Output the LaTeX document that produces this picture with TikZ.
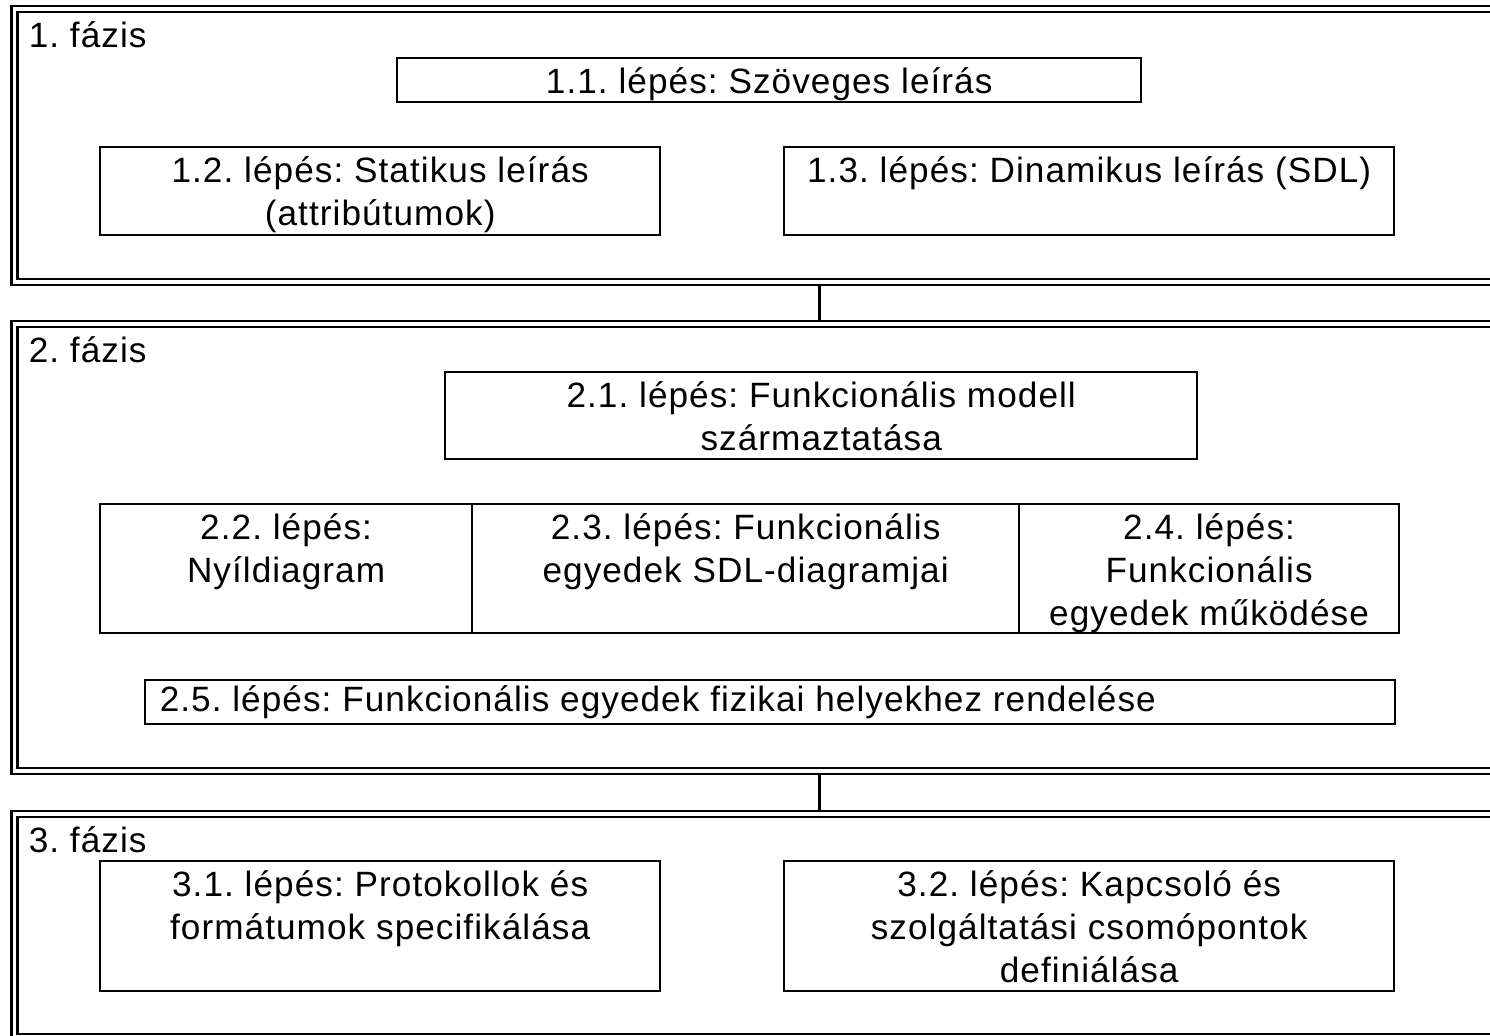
\documentclass[tikz,border=0pt]{standalone}
\usepackage{fontspec}
\setmainfont{Liberation Sans}[LetterSpace=3]
\usetikzlibrary{positioning}
\frenchspacing

\begin{document}
\begin{tikzpicture}[x=0.01cm,y=-0.01cm]
        \tikzstyle{phasebox}=[draw,double=white,double distance=1.1pt,line width=0.6pt,
            outer sep=1.15pt,inner sep=0pt,minimum width=16.09cm,anchor=north west]
        \tikzstyle{stepbox}=[draw,line width=0.6pt,inner sep=0pt,outer sep=0pt,anchor=north west]
        \tikzstyle{steptext}=[align=center,inner sep=1pt,font=\fontsize{10}{12.2}\selectfont]
        \tikzstyle{phasetext}=[inner sep=0pt,font=\fontsize{10}{12.2}\selectfont]

        \useasboundingbox (0,0) rectangle (1490,1036);
        \clip (0,0) rectangle (1490,1036);

        %% 1. fazis
        \begin{scope}
            \node [phasebox,minimum height=2.725cm] (f1) at (10.5,5) {};
            \node [phasetext,below right=4.5pt and 5pt of f1.north west] (f1t) {1. fázis};

            \node [stepbox,minimum width=7.44cm,minimum height=0.44cm] (s11) at (397,58) {};
            \node [steptext,below=1.5pt of s11.north] {1.1. lépés: Szöveges leírás};
            \node [stepbox,minimum width=5.6cm,minimum height=0.88cm] (s12) at (100,147) {};
            \node [steptext,below=1.5pt of s12.north] {1.2. lépés: Statikus leírás\\(attribútumok)};
            \node [stepbox,minimum width=6.1cm,minimum height=0.88cm] (s13) at (784,147) {};
            \node [steptext,below=1.5pt of s13.north] {1.3. lépés: Dinamikus leírás (SDL)};
        \end{scope}

        %% 2. fazis
        \begin{scope}
            \node [phasebox,minimum height=4.47cm] (f2) at (10.5,320) {};
            \node [phasetext,below right=4.5pt and 5pt of f2.north west] (f2t) {2. fázis};

            \node [stepbox,minimum width=7.52cm,minimum height=0.87cm] (s21) at (445,372) {};
            \node [steptext,below=1.5pt of s21.north] {2.1. lépés: Funkcionális modell\\származtatása};
            \node [stepbox,minimum width=3.72cm,minimum height=1.29cm] (s22) at (100,504) {};
            \node [steptext,below=1.5pt of s22.north] {2.2. lépés:\\Nyíldiagram};
            \node [stepbox,minimum width=5.47cm,minimum height=1.29cm] (s23) at (472,504) {};
            \node [steptext,below=1.5pt of s23.north] {2.3. lépés: Funkcionális\\egyedek SDL-diagramjai};
            \node [stepbox,minimum width=3.8cm,minimum height=1.29cm] (s24) at (1019,504) {};
            \node [steptext,below=1.5pt of s24.north] {2.4. lépés:\\Funkcionális\\egyedek működése};
            \node [stepbox,minimum width=12.49cm,minimum height=0.44cm] (s25) at (145,680) {};
            \node [steptext,right=3pt of s25.west] {2.5. lépés: Funkcionális egyedek fizikai helyekhez rendelése};
        \end{scope}

        %% 3. fazis
        \begin{scope}
            \node [phasebox,minimum height=2.225cm] (f3) at (10.5,810) {};
            \node [phasetext,below right=4.5pt and 5pt of f3.north west] (f3t) {3. fázis};

            \node [stepbox,minimum width=5.6cm,minimum height=1.3cm] (s31) at (100,861) {};
            \node [steptext,below=1.5pt of s31.north] {3.1. lépés: Protokollok és\\formátumok specifikálása};
            \node [stepbox,minimum width=6.1cm,minimum height=1.3cm] (s32) at (784,861) {};
            \node [steptext,below=1.5pt of s32.north] {3.2. lépés: Kapcsoló és\\szolgáltatási csomópontok\\definiálása};
        \end{scope}

        %% connectors
        \draw[line width=0.6pt] (f1.south) -- (f2.north);
        \draw[line width=0.6pt] (f2.south) -- (f3.north);
\end{tikzpicture}
\end{document}
